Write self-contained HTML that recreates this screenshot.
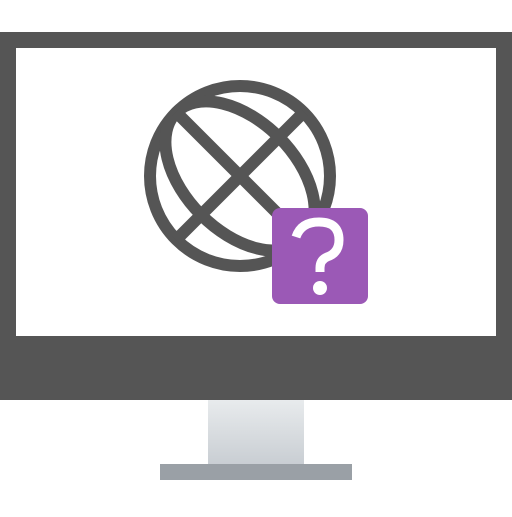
<!DOCTYPE html>
<html><head><style>body{margin:0;width:512px;height:512px;background:#fff;overflow:hidden}</style></head><body>
<svg width="512" height="512" viewBox="0 0 512 512">
<defs><linearGradient id="g" x1="0" y1="0" x2="0" y2="1"><stop offset="0" stop-color="#e8ebed"/><stop offset="1" stop-color="#c9ced3"/></linearGradient></defs>
<rect x="0" y="32" width="512" height="368" fill="#555"/>
<rect x="16" y="48" width="480" height="288" fill="#fff"/>
<rect x="208" y="400" width="96" height="64" fill="url(#g)"/>
<rect x="160" y="464" width="192" height="16" fill="#9aa0a6"/>
<g fill="none" stroke="#555" stroke-width="12">
<circle cx="240" cy="176" r="90"/>
<ellipse cx="240" cy="176" rx="90" ry="55" transform="rotate(45 240 176)"/>
<line x1="176" y1="112" x2="304" y2="240"/>
<line x1="304" y1="112" x2="176" y2="240"/>
</g>
<rect x="272" y="208" width="96" height="96" rx="8" fill="#9b59b6"/>
<path d="M296 237 Q301 222 319 222 Q339 222 339 240 Q339 253 327 257 Q320 260 320 268 L320 272" fill="none" stroke="#fff" stroke-width="9"/>
<circle cx="320" cy="288" r="7" fill="#fff"/>
</svg>
</body></html>
